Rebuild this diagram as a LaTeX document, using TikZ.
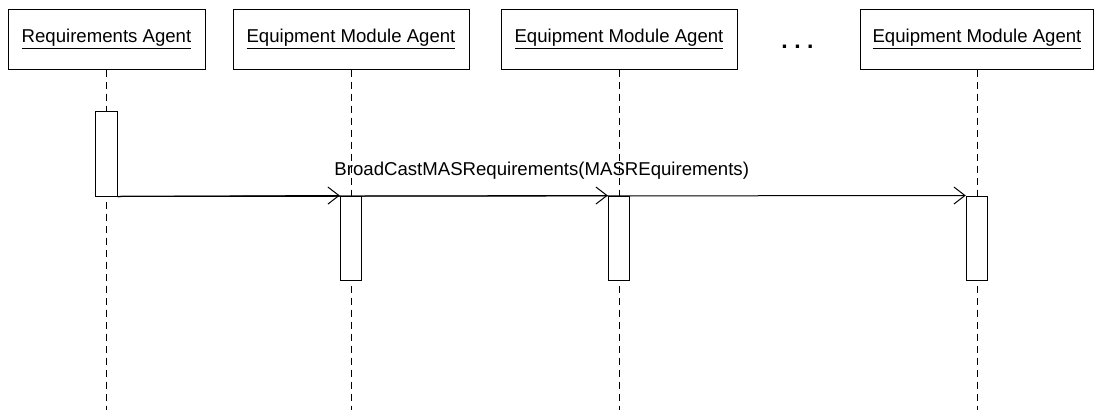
\documentclass[tikz,border=0pt]{standalone}
\usepackage{fontspec}
\setmainfont{Liberation Sans}
\usetikzlibrary{arrows.meta}

\begin{document}
\begin{tikzpicture}[x=1pt, y=-1pt, line width=1pt,
        font=\fontsize{18.6}{22}\selectfont,
        agent/.style={draw, fill=white, minimum width=236pt, minimum height=60pt, inner sep=0pt},
        activation/.style={draw, fill=white, minimum width=21.5pt, minimum height=84pt, inner sep=0pt},
        lifeline/.style={dash pattern=on 7pt off 5pt},
        message/.style={-{Straight Barb[length=11pt, width=17pt, line width=1pt]}}]
        \useasboundingbox (0,0) rectangle (1094,410);
        % agents
        \node[agent, minimum width=197pt] (req) at (106.5,39) {\underline{Requirements Agent}};
        \node[agent] (eqa) at (351,39) {\underline{Equipment Module Agent}};
        \node[agent] (eqb) at (619,39) {\underline{Equipment Module Agent}};
        \node[agent, minimum width=233pt] (eqc) at (977,39) {\underline{Equipment Module Agent}};
        \node[font=\fontsize{23}{23}\selectfont\bfseries, anchor=base] (dots) at (797.5,48) {.\kern6.5pt.\kern6.5pt.};
        % lifelines
        \coordinate (req end) at (req.south |- 0,410);
        \coordinate (eqa end) at (eqa.south |- 0,410);
        \coordinate (eqb end) at (eqb.south |- 0,410);
        \coordinate (eqc end) at (eqc.south |- 0,410);
        \draw[lifeline] (req.south) -- (req end);
        \draw[lifeline] (eqa.south) -- (eqa end);
        \draw[lifeline] (eqb.south) -- (eqb end);
        \draw[lifeline] (eqc.south) -- (eqc end);
        % activations
        \node[activation, minimum height=85pt] (req act) at (req.south |- 0,153.5) {};
        \node[activation] (eqa act) at (eqa.south |- 0,238) {};
        \node[activation] (eqb act) at (eqb.south |- 0,238) {};
        \node[activation] (eqc act) at (eqc.south |- 0,238) {};
        % messages
        \draw[message] (req act.south east) -- (eqa act.north west);
        \draw[message] (req act.south east) -- (eqb act.north west);
        \draw[message] (req act.south east) -- node[midway, yshift=25pt] {BroadCastMASRequirements(MASREquirements)} (eqc act.north west);
    \end{tikzpicture}
\end{document}
